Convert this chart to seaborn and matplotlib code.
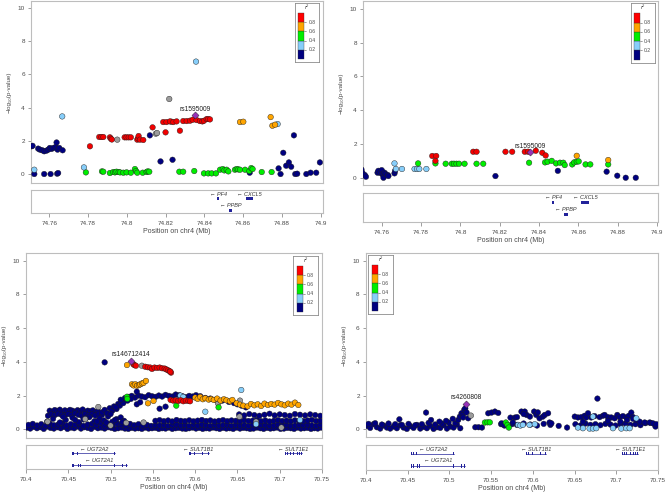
import matplotlib
matplotlib.use("Agg")
import matplotlib.pyplot as plt
import pandas as pd
import seaborn as sns
from matplotlib.patches import Rectangle

sns.set_theme(style="white")
plt.rcParams['font.family'] = ['Liberation Sans', 'DejaVu Sans']

# ---------------------------------------------------------------- data
# top-left panel (chr4 ~74.75-74.90 Mb)
tl_navy_x = [74.7509, 74.7514, 74.7543, 74.7552, 74.7564, 74.7574, 74.7586, 74.7595, 74.7603, 74.7612,
             74.7621, 74.7633, 74.7638, 74.7643, 74.7652, 74.7669, 74.7523, 74.7574, 74.7607, 74.7641,
             74.7646, 74.8119, 74.8174, 74.8236, 74.8634, 74.8783, 74.8793, 74.8807, 74.8822, 74.8836,
             74.8848, 74.8862, 74.8869, 74.8879, 74.8926, 74.8948, 74.8977, 74.8996]
tl_navy_y = [1.67, 1.70, 1.53, 1.47, 1.43, 1.37, 1.41, 1.47, 1.57, 1.51,
             1.57, 1.63, 1.90, 1.47, 1.57, 1.43, 0.00, 0.00, 0.00, 0.02,
             0.06, 2.33, 0.76, 0.86, 0.08, 0.34, 0.00, 1.28, 0.50, 0.70,
             0.44, 2.33, 0.00, 0.02, 0.00, 0.08, 0.08, 0.70]
tl_lblue_x = [74.7523, 74.7667, 74.7779, 74.8357, 74.8778]
tl_lblue_y = [0.26, 3.47, 0.40, 6.77, 3.01]
tl_green_x = [74.7789, 74.7872, 74.7879, 74.7913, 74.7930, 74.7939, 74.7947, 74.7958, 74.7965, 74.7982,
              74.7999, 74.8021, 74.8042, 74.8048, 74.8054, 74.8082, 74.8102, 74.8108, 74.8116, 74.8271,
              74.8291, 74.8348, 74.8398, 74.8420, 74.8438, 74.8460, 74.8481, 74.8495, 74.8503, 74.8515,
              74.8524, 74.8558, 74.8567, 74.8575, 74.8584, 74.8610, 74.8632, 74.8642, 74.8649, 74.8696,
              74.8747]
tl_green_y = [0.10, 0.16, 0.14, 0.06, 0.12, 0.10, 0.14, 0.12, 0.10, 0.08,
              0.10, 0.08, 0.30, 0.18, 0.08, 0.08, 0.12, 0.16, 0.14, 0.14,
              0.14, 0.18, 0.04, 0.04, 0.04, 0.04, 0.26, 0.30, 0.22, 0.26,
              0.16, 0.26, 0.30, 0.28, 0.26, 0.26, 0.18, 0.36, 0.30, 0.12,
              0.12]
tl_orange_x = [74.8584, 74.8601, 74.8742, 74.8751, 74.8765]
tl_orange_y = [3.13, 3.15, 3.43, 2.91, 2.97]
tl_red_x = [74.7810, 74.7858, 74.7869, 74.7879, 74.7913, 74.7918, 74.7923, 74.7989, 74.7999, 74.8010,
            74.8021, 74.8054, 74.8058, 74.8061, 74.8068, 74.8085, 74.8133, 74.8200, 74.8188, 74.8205,
            74.8223, 74.8240, 74.8257, 74.8274, 74.8291, 74.8309, 74.8326, 74.8340, 74.8360, 74.8377,
            74.8390, 74.8398, 74.8412, 74.8420, 74.8429]
tl_red_y = [1.67, 2.23, 2.23, 2.23, 2.21, 2.13, 2.08, 2.21, 2.21, 2.21,
            2.21, 2.07, 2.15, 2.29, 2.07, 2.05, 2.81, 2.51, 3.13, 3.13,
            3.17, 3.13, 3.17, 2.61, 3.19, 3.19, 3.21, 3.27, 3.25, 3.19,
            3.17, 3.21, 3.31, 3.31, 3.29]
tl_grey_x = [74.7951, 74.8150, 74.8156, 74.8219, 74.8231]
tl_grey_y = [2.07, 2.43, 2.47, 4.52, 3.15]
tl_index = [74.8352, 3.53]

# top-right panel
tr_navy_x = [74.7497, 74.7502, 74.7514, 74.7520, 74.7579, 74.7583, 74.7591, 74.7600, 74.7603, 74.7608,
             74.7609, 74.7614, 74.7620, 74.7631, 74.7634, 74.7665, 74.7668, 74.8178, 74.8495, 74.8743,
             74.8797, 74.8840, 74.8891]
tr_navy_y = [0.49, 0.30, 0.16, 0.06, 0.30, 0.41, 0.30, 0.45, 0.22, 0.16,
             0.00, 0.30, 0.22, 0.16, 0.10, 0.26, 0.41, 0.10, 0.41, 0.36,
             0.12, 0.00, 0.00]
tr_lblue_x = [74.7665, 74.7672, 74.7703, 74.7767, 74.7780, 74.7791, 74.7827]
tr_lblue_y = [0.85, 0.52, 0.52, 0.52, 0.52, 0.52, 0.52]
tr_green_x = [74.7785, 74.7873, 74.7925, 74.7956, 74.7967, 74.7980, 74.7993, 74.8021, 74.8082, 74.8116,
              74.8349, 74.8430, 74.8443, 74.8464, 74.8486, 74.8506, 74.8523, 74.8530, 74.8568, 74.8578,
              74.8591, 74.8601, 74.8636, 74.8660, 74.8751]
tr_green_y = [0.85, 0.85, 0.83, 0.83, 0.83, 0.83, 0.83, 0.83, 0.83, 0.83,
              0.89, 0.91, 0.95, 1.00, 0.85, 0.89, 0.89, 0.75, 0.79, 0.91,
              0.95, 0.97, 0.79, 0.79, 0.79]
tr_orange_x = [74.8591, 74.8751]
tr_orange_y = [1.30, 1.05]
tr_red_x = [74.7857, 74.7877, 74.7873, 74.8065, 74.8082, 74.8229, 74.8263, 74.8327, 74.8344, 74.8383,
            74.8416, 74.8433]
tr_red_y = [1.29, 1.29, 1.00, 1.54, 1.54, 1.54, 1.54, 1.54, 1.54, 1.60,
            1.48, 1.32]
tr_index = [74.8352, 1.50]

# bottom-left panel (chr4 70.40-70.75 Mb)
bl_navy_a_x = [70.401, 70.405, 70.409, 70.413, 70.417, 70.421, 70.425, 70.429, 70.433, 70.437,
               70.441, 70.445, 70.449, 70.453, 70.457, 70.461, 70.465, 70.469, 70.473, 70.477,
               70.481, 70.485, 70.489, 70.493, 70.497, 70.501, 70.505, 70.509, 70.513, 70.517,
               70.521, 70.525, 70.529, 70.533, 70.537, 70.541, 70.545, 70.549, 70.553, 70.557,
               70.561, 70.565, 70.569, 70.573, 70.577, 70.581, 70.585, 70.589, 70.593, 70.597,
               70.601, 70.605, 70.609, 70.613, 70.617, 70.621, 70.625, 70.629, 70.633, 70.637,
               70.641, 70.645, 70.649, 70.653, 70.657, 70.661, 70.665, 70.669, 70.673, 70.677,
               70.681, 70.685, 70.689, 70.693, 70.697, 70.701, 70.705, 70.709, 70.713, 70.717,
               70.721, 70.725, 70.729, 70.733, 70.737, 70.741, 70.745, 70.749]
bl_navy_a_y = [0.10, 0.04, 0.14, 0.06, 0.12, 0.02, 0.16, 0.08, 0.04, 0.12,
               0.06, 0.14, 0.02, 0.10, 0.06, 0.16, 0.04, 0.12, 0.08, 0.02,
               0.14, 0.06, 0.10, 0.04, 0.12, 0.08, 0.02, 0.06, 0.10, 0.04,
               0.02, 0.08, 0.04, 0.06, 0.02, 0.10, 0.04, 0.06, 0.08, 0.02,
               0.06, 0.04, 0.10, 0.02, 0.06, 0.08, 0.04, 0.02, 0.06, 0.10,
               0.04, 0.08, 0.02, 0.06, 0.04, 0.10, 0.06, 0.02, 0.08, 0.04,
               0.06, 0.02, 0.10, 0.04, 0.08, 0.06, 0.02, 0.04, 0.10, 0.06,
               0.02, 0.08, 0.04, 0.06, 0.10, 0.02, 0.04, 0.08, 0.06, 0.02,
               0.10, 0.04, 0.06, 0.08, 0.02, 0.06, 0.04, 0.10]
bl_navy_b_x = [70.403, 70.408, 70.413, 70.418, 70.423, 70.428, 70.433, 70.438, 70.443, 70.448,
               70.453, 70.458, 70.463, 70.468, 70.473, 70.478, 70.483, 70.488, 70.493, 70.498,
               70.503, 70.508, 70.513, 70.518, 70.523, 70.528, 70.533, 70.538, 70.543, 70.548,
               70.553, 70.558, 70.563, 70.568, 70.573, 70.578, 70.583, 70.588, 70.593, 70.598,
               70.603, 70.608, 70.613, 70.618, 70.623, 70.628, 70.633, 70.638, 70.643, 70.648,
               70.653, 70.658, 70.663, 70.668, 70.673, 70.678, 70.683, 70.688, 70.693, 70.698,
               70.703, 70.708, 70.713, 70.718, 70.723, 70.728, 70.733, 70.738, 70.743, 70.748]
bl_navy_b_y = [0.26, 0.32, 0.22, 0.30, 0.20, 0.34, 0.24, 0.28, 0.36, 0.22,
               0.30, 0.26, 0.34, 0.20, 0.28, 0.32, 0.24, 0.36, 0.22, 0.30,
               0.26, 0.34, 0.28, 0.20, 0.32, 0.24, 0.30, 0.22, 0.26, 0.20,
               0.24, 0.22, 0.26, 0.20, 0.24, 0.28, 0.22, 0.26, 0.20, 0.24,
               0.22, 0.28, 0.24, 0.20, 0.26, 0.22, 0.24, 0.28, 0.20, 0.26,
               0.22, 0.24, 0.20, 0.28, 0.22, 0.26, 0.24, 0.20, 0.22, 0.28,
               0.24, 0.26, 0.20, 0.22, 0.26, 0.24, 0.28, 0.22, 0.20, 0.26]
bl_navy_c_x = [70.553, 70.558, 70.563, 70.568, 70.573, 70.578, 70.583, 70.588, 70.593, 70.598,
               70.603, 70.608, 70.613, 70.618, 70.623, 70.628, 70.633, 70.638, 70.643, 70.648,
               70.653, 70.658, 70.663, 70.668, 70.673, 70.678, 70.683, 70.688, 70.693, 70.698,
               70.703, 70.708, 70.713, 70.718, 70.723, 70.728, 70.733, 70.738, 70.743, 70.748]
bl_navy_c_y = [0.50, 0.54, 0.48, 0.52, 0.46, 0.55, 0.50, 0.48, 0.53, 0.47,
               0.51, 0.55, 0.49, 0.52, 0.46, 0.50, 0.54, 0.48, 0.52, 0.50,
               0.47, 0.53, 0.49, 0.51, 0.55, 0.48, 0.52, 0.46, 0.50, 0.54,
               0.49, 0.51, 0.47, 0.53, 0.50, 0.48, 0.52, 0.55, 0.49, 0.51]
bl_navy_d1_x = [70.428, 70.431, 70.434, 70.437, 70.440, 70.443, 70.446, 70.449, 70.452, 70.455,
                70.458, 70.461, 70.464, 70.467, 70.470, 70.473, 70.476, 70.479, 70.482, 70.485]
bl_navy_d1_y = [1.10, 1.04, 1.14, 1.08, 1.16, 1.02, 1.12, 1.06, 1.15, 1.10,
                1.04, 1.13, 1.08, 1.17, 1.02, 1.10, 1.06, 1.12, 1.00, 1.08]
bl_navy_d2_x = [70.426, 70.430, 70.434, 70.438, 70.442, 70.446, 70.450, 70.454, 70.458, 70.462,
                70.466, 70.470, 70.474, 70.478, 70.482, 70.486, 70.490]
bl_navy_d2_y = [0.80, 0.88, 0.84, 0.92, 0.86, 0.82, 0.90, 0.84, 0.94, 0.86,
                0.80, 0.90, 0.84, 0.88, 0.82, 0.92, 0.86]
bl_navy_e_x = [70.425, 70.432, 70.440, 70.447, 70.455, 70.462, 70.468, 70.475, 70.481, 70.487,
               70.492, 70.497, 70.502, 70.507, 70.512, 70.516, 70.444, 70.458, 70.471, 70.484,
               70.495, 70.505, 70.514]
bl_navy_e_y = [0.45, 0.62, 0.40, 0.55, 0.68, 0.42, 0.58, 0.72, 0.48, 0.64,
               0.52, 0.76, 0.44, 0.60, 0.70, 0.50, 0.74, 0.56, 0.66, 0.46,
               0.40, 0.54, 0.42]
bl_navy_f_x = [70.490, 70.493, 70.496, 70.499, 70.502, 70.504, 70.507, 70.509, 70.511, 70.513,
               70.515, 70.517, 70.512, 70.506, 70.500]
bl_navy_f_y = [1.00, 1.15, 0.95, 1.25, 1.10, 1.35, 1.20, 1.50, 1.40, 1.65,
               1.55, 1.85, 1.75, 1.30, 0.90]
bl_navy_g_x = [70.521, 70.525, 70.529, 70.533, 70.537, 70.541, 70.545, 70.549, 70.553, 70.557,
               70.561, 70.565, 70.569, 70.573, 70.577, 70.581, 70.585, 70.589, 70.593, 70.597]
bl_navy_g_y = [1.92, 1.98, 1.88, 2.00, 1.94, 1.90, 2.02, 1.96, 1.92, 2.00,
               1.94, 2.04, 1.98, 1.94, 2.06, 2.02, 1.96, 1.90, 1.98, 1.94]
bl_navy_h_x = [70.601, 70.606, 70.612, 70.618, 70.624, 70.632, 70.640, 70.646, 70.650, 70.655,
               70.660, 70.531, 70.531, 70.565, 70.520, 70.524, 70.558, 70.535, 70.493]
bl_navy_h_y = [2.02, 1.96, 1.86, 1.82, 1.74, 1.70, 1.62, 1.55, 1.48, 1.40,
               1.30, 2.23, 1.48, 1.34, 1.70, 1.80, 1.22, 1.60, 3.97]
bl_navy_i_x = [70.652, 70.658, 70.664, 70.670, 70.676, 70.682, 70.688, 70.694, 70.700, 70.706,
               70.712, 70.718, 70.724, 70.730, 70.736, 70.742, 70.748]
bl_navy_i_y = [0.88, 0.82, 0.90, 0.84, 0.80, 0.86, 0.92, 0.82, 0.88, 0.84,
               0.80, 0.90, 0.86, 0.82, 0.88, 0.84, 0.80]
bl_grey_x = [70.537, 70.4855, 70.539, 70.653, 70.627, 70.4255, 70.470, 70.500, 70.5185, 70.6525,
             70.702, 70.672]
bl_grey_y = [3.77, 1.32, 0.40, 1.70, 1.54, 0.45, 0.60, 0.22, 0.38, 0.75,
             0.10, 0.45]
bl_lblue_x = [70.6545, 70.5826, 70.5860, 70.612, 70.672, 70.724]
bl_lblue_y = [2.33, 2.00, 1.92, 1.04, 0.30, 0.55]
bl_green_x = [70.5194, 70.5198, 70.5777, 70.6277]
bl_green_y = [1.93, 1.80, 1.40, 1.30]
bl_orange_x = [70.5194, 70.5253, 70.5272, 70.5292, 70.5312, 70.5335, 70.5351, 70.5372, 70.5390, 70.5418,
               70.5442, 70.5508,
               70.600, 70.603, 70.606, 70.609, 70.612, 70.616, 70.619, 70.622, 70.626, 70.630,
               70.634, 70.637, 70.641, 70.644,
               70.649, 70.653, 70.657, 70.662, 70.666, 70.670, 70.674, 70.678, 70.682, 70.686,
               70.690, 70.694, 70.698, 70.702, 70.706, 70.710, 70.714, 70.718, 70.722]
bl_orange_y = [3.81, 2.67, 2.60, 2.67, 2.58, 2.62, 2.67, 2.72, 2.75, 2.87,
               1.54, 1.68,
               1.88, 1.80, 1.92, 1.78, 1.84, 1.76, 1.80, 1.74, 1.82, 1.70,
               1.78, 1.72, 1.66, 1.74,
               1.54, 1.46, 1.40, 1.36, 1.50, 1.42, 1.48, 1.38, 1.52, 1.44,
               1.50, 1.46, 1.56, 1.48, 1.42, 1.52, 1.46, 1.58, 1.44]
bl_red_x = [70.5270, 70.5285, 70.5300,
            70.541, 70.544, 70.547, 70.549, 70.552, 70.555, 70.558, 70.561, 70.564, 70.566,
            70.568, 70.570, 70.5715, 70.5706,
            70.571, 70.574, 70.577, 70.580, 70.583, 70.586, 70.589, 70.592, 70.594]
bl_red_y = [3.85, 3.80, 3.77,
            3.71, 3.68, 3.66, 3.58, 3.66, 3.64, 3.66, 3.62, 3.60, 3.55,
            3.50, 3.44, 3.36, 3.42,
            1.74, 1.70, 1.72, 1.68, 1.72, 1.66, 1.70, 1.68, 1.66]
bl_index = [70.524, 4.07]

# bottom-right panel
br_navy_a_x = [70.401, 70.405, 70.409, 70.413, 70.417, 70.421, 70.425, 70.429, 70.433, 70.437,
               70.441, 70.445, 70.449, 70.453, 70.457, 70.461, 70.465, 70.469, 70.473, 70.477,
               70.481, 70.485, 70.489, 70.493, 70.497, 70.501, 70.505, 70.509, 70.513,
               70.531, 70.535, 70.539,
               70.562, 70.566, 70.575, 70.581, 70.589, 70.597, 70.605, 70.613, 70.621, 70.631, 70.641,
               70.651, 70.657, 70.663, 70.669, 70.675, 70.681, 70.687, 70.693, 70.699, 70.705,
               70.711, 70.717, 70.723, 70.729, 70.735, 70.741, 70.747]
br_navy_a_y = [0.20, 0.08, 0.30, 0.12, 0.04, 0.22, 0.10, 0.04, 0.16, 0.06,
               0.24, 0.10, 0.02, 0.18, 0.08, 0.26, 0.04, 0.14, 0.06, 0.20,
               0.02, 0.12, 0.08, 0.24, 0.04, 0.16, 0.10, 0.28, 0.06,
               0.12, 0.12, 0.10,
               0.30, 0.22, 0.30, 0.26, 0.34, 0.28, 0.22, 0.32, 0.26, 0.20, 0.10,
               0.30, 0.22, 0.34, 0.26, 0.30, 0.24, 0.32, 0.28, 0.22, 0.30,
               0.34, 0.26, 0.30, 0.24, 0.36, 0.38, 0.16]
br_navy_b_x = [70.403, 70.411, 70.419, 70.427, 70.435, 70.443, 70.451, 70.459, 70.467, 70.475,
               70.483, 70.491, 70.499, 70.507, 70.440, 70.472, 70.478, 70.488, 70.496, 70.504]
br_navy_b_y = [0.32, 0.36, 0.28, 0.34, 0.30, 0.26, 0.32, 0.24, 0.30, 0.38,
               0.28, 0.34, 0.40, 0.36, 0.59, 0.99, 0.55, 0.45, 0.50, 0.62]
br_navy_c_x = [70.5105, 70.5125, 70.5145, 70.5160, 70.5177, 70.5190, 70.5205, 70.5225, 70.5165]
br_navy_c_y = [0.55, 0.75, 0.95, 0.85, 1.15, 1.24, 1.00, 0.65, 0.70]
br_navy_d_x = [70.5465, 70.5505, 70.5545, 70.5585, 70.5625, 70.5650]
br_navy_d_y = [0.95, 0.99, 1.05, 0.97, 0.35, 0.28]
br_navy_e_x = [70.5732, 70.5784, 70.5810, 70.5863, 70.5903, 70.5925, 70.5965, 70.6015, 70.6040, 70.6080,
               70.6120, 70.6143, 70.6183, 70.6200, 70.6222, 70.6060, 70.5890, 70.5760]
br_navy_e_y = [0.69, 0.69, 0.72, 1.05, 1.05, 0.85, 0.75, 1.05, 0.85, 0.65,
               0.75, 0.85, 0.95, 0.40, 0.35, 1.00, 0.90, 0.40]
br_navy_f_x = [70.6502, 70.6540, 70.6580, 70.6620, 70.6641, 70.6661, 70.6700, 70.6740, 70.6774, 70.6800,
               70.6840, 70.6860, 70.6900, 70.6940, 70.6980, 70.7012, 70.7040, 70.7080, 70.7120, 70.7150,
               70.7180, 70.7200, 70.7240, 70.7280, 70.7340, 70.7400, 70.7440, 70.7480,
               70.660, 70.690, 70.705, 70.713, 70.720]
br_navy_f_y = [0.75, 0.70, 0.72, 0.80, 0.70, 0.95, 0.70, 0.78, 1.82, 0.72,
               0.80, 0.85, 0.72, 0.70, 0.65, 0.85, 0.72, 0.78, 0.70, 0.80,
               0.99, 0.72, 0.55, 0.45, 0.40, 0.40, 0.35, 0.30,
               0.45, 0.50, 0.45, 0.55, 0.62]
br_lblue_x = [70.5823, 70.5850, 70.5880, 70.5960, 70.6023, 70.6540, 70.6600, 70.6680, 70.6720, 70.6760,
              70.6960, 70.7060, 70.7120, 70.7160, 70.7240, 70.6720]
br_lblue_y = [0.26, 0.22, 0.26, 0.26, 0.30, 0.10, 0.06, 0.04, 0.04, 0.06,
              0.06, 0.04, 0.06, 0.06, 0.65, 0.75]
br_green_x = [70.5425, 70.5456, 70.5484, 70.5676, 70.5696, 70.5712]
br_green_y = [0.40, 0.41, 0.41, 0.40, 0.26, 0.10]
br_grey_x = [70.5257]
br_grey_y = [0.81]
br_index = [70.5197, 1.48]

index_labels = ["rs1595009", "rs1595009", "rs146712414", "rs4260808"]

# genes
top_gene_names = ["PF4", "PPBP", "CXCL5"]
top_gene_start = [74.8465, 74.8525, 74.8615]
top_gene_end = [74.8478, 74.8545, 74.8651]
top_gene_row = [0, 1, 0]

bot_gene_names = ["UGT2A2", "UGT2A1", "SULT1B1", "SULT1E1"]
bot_gene_start = [70.4544, 70.4544, 70.5923, 70.7065]
bot_gene_end = [70.5056, 70.5190, 70.6159, 70.7262]
bot_gene_row = [0, 1, 0, 0]
bot_gene_exons = [[70.4544, 70.4560, 70.4600, 70.5044],
                  [70.4544, 70.4560, 70.4610, 70.4640, 70.5044, 70.5135, 70.5178],
                  [70.5923, 70.5940, 70.5990, 70.6080, 70.6147],
                  [70.7065, 70.7090, 70.7120, 70.7160, 70.7200, 70.7230, 70.7250]]

top_xticks = [74.76, 74.78, 74.80, 74.82, 74.84, 74.86, 74.88, 74.90]
top_xticklabels = ["74.76", "74.78", "74.8", "74.82", "74.84", "74.86", "74.88", "74.9"]
bot_xticks = [70.40, 70.45, 70.50, 70.55, 70.60, 70.65, 70.70, 70.75]
bot_xticklabels = ["70.4", "70.45", "70.5", "70.55", "70.6", "70.65", "70.7", "70.75"]
yticks = [0, 2, 4, 6, 8, 10]
legend_ticks = ["0.2", "0.4", "0.6", "0.8"]

# ---------------------------------------------------------------- style
LD_COLORS = {"navy": "#000080", "lblue": "#87CEFA", "green": "#00EE00",
             "orange": "#FFA500", "red": "#F20000", "grey": "#9C9C9C"}
INDEX_COLOR = "#9632B8"
GENE_COLOR = "#22229A"
FRAME = "#BDBDBD"
TXT = "#4A4A4A"

W, H = 667, 493
fig = plt.figure(figsize=(W / 100, H / 100), dpi=100)
fig.patch.set_facecolor("white")


def rect(l, t, r, b):
    return [l / W, 1 - b / H, (r - l) / W, (b - t) / H]


def ld_frame(parts):
    frames = []
    for xs, ys, cat in parts:
        if len(xs) != len(ys):
            raise ValueError(f"length mismatch {cat}: {len(xs)} vs {len(ys)}")
        frames.append(pd.DataFrame({"pos": xs, "logp": ys, "ld": cat}))
    return pd.concat(frames, ignore_index=True)


def style_frame(ax):
    for sp in ax.spines.values():
        sp.set_color(FRAME)
        sp.set_linewidth(0.8)


def r2_legend(box):
    lax = fig.add_axes(rect(*box))
    lax.set_xlim(0, 1)
    lax.set_ylim(0, 1)
    lax.set_xticks([])
    lax.set_yticks([])
    lax.set_facecolor("white")
    for sp in lax.spines.values():
        sp.set_color("#8c8c8c")
        sp.set_linewidth(0.6)
    cols = [LD_COLORS["navy"], LD_COLORS["lblue"], LD_COLORS["green"],
            LD_COLORS["orange"], "#FF0000"]
    y0, h = 0.05, 0.156
    for i, c in enumerate(cols):
        lax.add_patch(Rectangle((0.13, y0 + i * h), 0.24, h, facecolor=c,
                                edgecolor="#333333", linewidth=0.25))
    for i, lab in enumerate(legend_ticks):
        yy = y0 + (i + 1) * h
        lax.plot([0.37, 0.47], [yy, yy], color="#555555", lw=0.4)
        lax.text(0.55, yy, lab, fontsize=3.6, color=TXT, va="center", ha="left")
    lax.text(0.50, 0.925, "r²", fontsize=4.2, style="italic", color=TXT,
             ha="center", va="center")


def draw_panel(main_box, gene_box, xlim, ylim, df, index_xy, label, xticks, xticklabels,
               legend_box, genes, gene_row_y, label_row_y, boxed_genes, ylabelpad):
    ax = fig.add_axes(rect(*main_box))
    sns.scatterplot(data=df, x="pos", y="logp", hue="ld", palette=LD_COLORS, s=16,
                    edgecolor="#1e1e1e", linewidth=0.3, legend=False, ax=ax, zorder=3)
    idx = pd.DataFrame({"pos": [index_xy[0]], "logp": [index_xy[1]]})
    sns.scatterplot(data=idx, x="pos", y="logp", marker="D", color=INDEX_COLOR, s=13,
                    edgecolor="#1e1e1e", linewidth=0.3, legend=False, ax=ax, zorder=4)
    ax.annotate(label, (index_xy[0], index_xy[1]), xytext=(0, 4.6), textcoords="offset points",
                ha="center", va="center", fontsize=4.8, color="#222222", zorder=5)
    ax.set_xlim(*xlim)
    ax.set_ylim(*ylim)
    ax.set_xticks([])
    ax.set_yticks(yticks)
    ax.set_yticklabels([str(v) for v in yticks])
    ax.set_xlabel("")
    ax.set_ylabel("\u2212log\u2081\u2080(p-value)", fontsize=4.5, color=TXT, labelpad=ylabelpad)
    ax.tick_params(axis="y", length=2.5, width=0.5, color="#777777", labelsize=4.6,
                   labelcolor=TXT, pad=2, left=True)
    ax.set_facecolor("white")
    style_frame(ax)

    gx = fig.add_axes(rect(*gene_box))
    gx.set_xlim(*xlim)
    gx.set_ylim(0, 1)
    gx.set_yticks([])
    gx.set_xticks(xticks)
    gx.set_xticklabels(xticklabels)
    gx.tick_params(axis="x", length=3, width=0.5, color="#777777", labelsize=4.6,
                   labelcolor=TXT, pad=3, bottom=True)
    gx.set_xlabel("Position on chr4 (Mb)", fontsize=5, color=TXT, labelpad=1)
    style_frame(gx)
    for g in genes:
        name, start, end, row, exons = g
        yg = gene_row_y[row]
        if boxed_genes:
            gx.add_patch(Rectangle((start, yg - 0.06), end - start, 0.12,
                                   facecolor=GENE_COLOR, edgecolor="none"))
        else:
            gx.plot([start, end], [yg, yg], color=GENE_COLOR, lw=0.5)
            for e in exons:
                gx.add_patch(Rectangle((e, yg - 0.07), 0.0012, 0.14,
                                       facecolor=GENE_COLOR, edgecolor="none"))
        gx.text((start + end) / 2, label_row_y[row], "\u2190 " + name, fontsize=4,
                style="italic", color="#333333", ha="center", va="center")

    r2_legend(legend_box)


top_genes = [(n, s, e, r, []) for n, s, e, r in
             zip(top_gene_names, top_gene_start, top_gene_end, top_gene_row)]
bot_genes = [(n, s, e, r, ex) for n, s, e, r, ex in
             zip(bot_gene_names, bot_gene_start, bot_gene_end, bot_gene_row, bot_gene_exons)]

tl_df = ld_frame([(tl_navy_x, tl_navy_y, "navy"), (tl_green_x, tl_green_y, "green"),
                  (tl_lblue_x, tl_lblue_y, "lblue"), (tl_grey_x, tl_grey_y, "grey"),
                  (tl_red_x, tl_red_y, "red"), (tl_orange_x, tl_orange_y, "orange")])
tr_df = ld_frame([(tr_navy_x, tr_navy_y, "navy"), (tr_lblue_x, tr_lblue_y, "lblue"),
                  (tr_green_x, tr_green_y, "green"), (tr_red_x, tr_red_y, "red"),
                  (tr_orange_x, tr_orange_y, "orange")])
bl_df = ld_frame([(bl_navy_a_x, bl_navy_a_y, "navy"), (bl_navy_b_x, bl_navy_b_y, "navy"),
                  (bl_navy_c_x, bl_navy_c_y, "navy"), (bl_navy_d1_x, bl_navy_d1_y, "navy"),
                  (bl_navy_d2_x, bl_navy_d2_y, "navy"), (bl_navy_e_x, bl_navy_e_y, "navy"),
                  (bl_navy_f_x, bl_navy_f_y, "navy"), (bl_navy_g_x, bl_navy_g_y, "navy"),
                  (bl_navy_h_x, bl_navy_h_y, "navy"), (bl_navy_i_x, bl_navy_i_y, "navy"),
                  (bl_grey_x, bl_grey_y, "grey"), (bl_lblue_x, bl_lblue_y, "lblue"),
                  (bl_green_x, bl_green_y, "green"), (bl_orange_x, bl_orange_y, "orange"),
                  (bl_red_x, bl_red_y, "red")])
br_df = ld_frame([(br_navy_a_x, br_navy_a_y, "navy"), (br_navy_b_x, br_navy_b_y, "navy"),
                  (br_navy_c_x, br_navy_c_y, "navy"), (br_navy_d_x, br_navy_d_y, "navy"),
                  (br_navy_e_x, br_navy_e_y, "navy"), (br_navy_f_x, br_navy_f_y, "navy"),
                  (br_lblue_x, br_lblue_y, "lblue"), (br_green_x, br_green_y, "green"),
                  (br_grey_x, br_grey_y, "grey")])

draw_panel((31, 1, 323, 183), (31, 190, 323, 213), (74.7506, 74.9012), (-0.54, 10.42),
           tl_df, tl_index, index_labels[0], top_xticks, top_xticklabels,
           (295, 3.3, 319.3, 61.7), top_genes, [0.64, 0.12], [0.80, 0.34], True, 4)
draw_panel((363, 1, 658, 185), (363, 193, 658, 222), (74.7505, 74.9004), (-0.43, 10.47),
           tr_df, tr_index, index_labels[1], top_xticks, top_xticklabels,
           (631, 3.3, 655, 62.7), top_genes, [0.68, 0.26], [0.83, 0.42], True, 4)
draw_panel((26, 253, 322, 438), (26, 445, 322, 469), (70.40, 70.75), (-0.52, 10.46),
           bl_df, bl_index, index_labels[2], bot_xticks, bot_xticklabels,
           (293.3, 256, 318.3, 315), bot_genes, [0.65, 0.15], [0.80, 0.34], False, 4)
draw_panel((366, 253, 658, 437), (366, 445, 658, 470), (70.40, 70.75), (-0.46, 10.46),
           br_df, br_index, index_labels[3], bot_xticks, bot_xticklabels,
           (368.3, 255, 393.3, 314), bot_genes, [0.66, 0.17], [0.81, 0.36], False, 4)

fig.savefig("out.png", dpi=100, facecolor="white")
